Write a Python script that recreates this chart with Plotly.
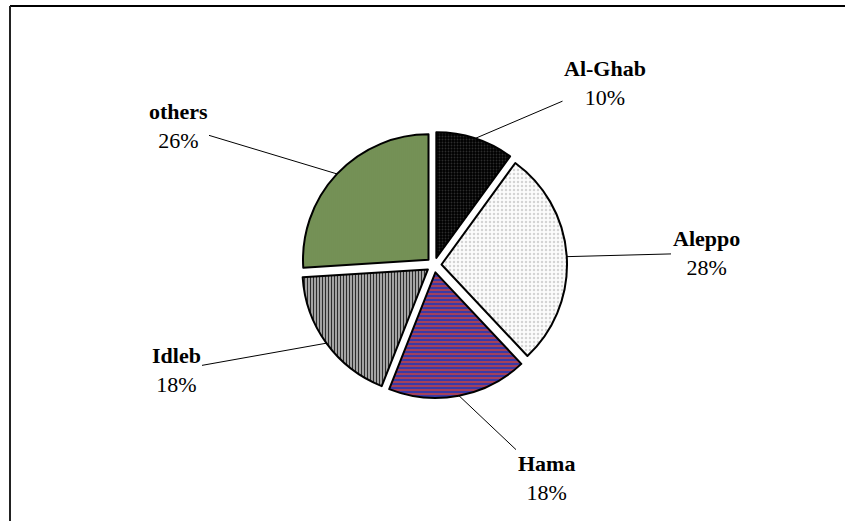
import math
import plotly.graph_objects as go

# Share of each region
regions = ["Al-Ghab", "Aleppo", "Hama", "Idleb", "others"]
shares = [10, 28, 18, 18, 26]

# Slice fills (pattern shape, background, foreground, size, solidity)
pattern_shapes = [".", ".", "-", "|", "|"]
bg_colors = ["#000000", "#fcfcfc", "#3a3aa6", "#bdbdbd", "#7d9a5c"]
fg_colors = ["#2c2c2c", "#d4d4d4", "#a4405a", "#2e2e2e", "#66834a"]
pattern_sizes = [3, 4, 4, 3, 2]
pattern_solidity = [0.3, 0.3, 0.5, 0.45, 0.4]

W, H = 845, 521
PULL = 0.06
CX, CY = 434, 265          # pie centre in pixels (from top-left)
R = 125.5                  # pie radius in pixels
half = R * (1 + PULL)
dom_x = [(CX - half) / W, (CX + half) / W]
dom_y = [(H - CY - half) / H, (H - CY + half) / H]

# Label text centres in pixels
label_pos = [(605, 83), (706, 253), (546, 478), (176, 370), (178, 126)]

fig = go.Figure(go.Pie(
    labels=regions,
    values=shares,
    sort=False,
    direction="clockwise",
    rotation=0,
    pull=[PULL] * len(shares),
    textinfo="none",
    hoverinfo="label+percent",
    domain=dict(x=dom_x, y=dom_y),
    marker=dict(
        colors=bg_colors,
        line=dict(color="black", width=2),
        pattern=dict(
            shape=pattern_shapes,
            bgcolor=bg_colors,
            fgcolor=fg_colors,
            size=pattern_sizes,
            solidity=pattern_solidity,
            fillmode="replace",
        ),
    ),
))

# Leader-line labels anchored at the outer arc, mid-angle of each slice
total = sum(shares)
annotations = []
cum = 0
for name, v, (lx, ly) in zip(regions, shares, label_pos):
    mid = (cum + v / 2) / total * 2 * math.pi
    cum += v
    ax_px = CX + R * (1 + PULL) * math.sin(mid)
    ay_px = CY - R * (1 + PULL) * math.cos(mid)
    pct = round(100 * v / total)
    annotations.append(dict(
        x=ax_px / W, y=1 - ay_px / H, xref="paper", yref="paper",
        ax=lx - ax_px, ay=ly - ay_px,
        text=f"<b>{name}</b><br>{pct}%",
        showarrow=True, arrowhead=0, arrowwidth=1, arrowcolor="black",
        font=dict(family="Liberation Serif", size=22, color="black"),
        align="center",
    ))

fig.update_layout(
    width=W, height=H,
    margin=dict(l=0, r=0, t=0, b=0),
    paper_bgcolor="white",
    plot_bgcolor="white",
    showlegend=False,
    annotations=annotations,
    shapes=[
        dict(type="line", xref="paper", yref="paper",
             x0=10 / W, x1=1, y0=1 - 6 / H, y1=1 - 6 / H,
             line=dict(color="black", width=2)),
        dict(type="line", xref="paper", yref="paper",
             x0=10 / W, x1=10 / W, y0=0, y1=1 - 6 / H,
             line=dict(color="#222222", width=2)),
    ],
)

fig.write_html("out.html")
